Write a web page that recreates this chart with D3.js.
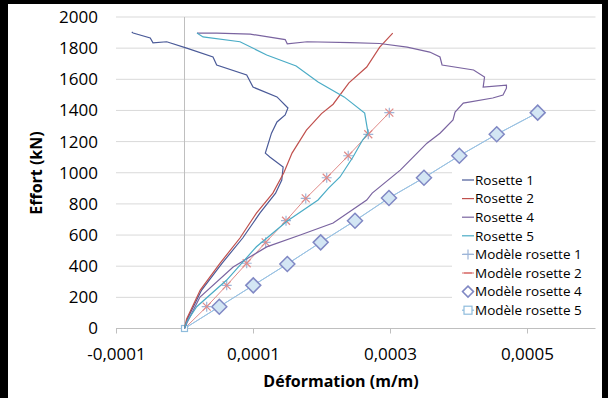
<!DOCTYPE html>
<html><head><meta charset="utf-8">
<script src="https://cdn.jsdelivr.net/npm/d3@7"></script>
<style>
html,body{margin:0;padding:0;background:#000;}
svg{display:block;}
text{font-family:"Open Sans","Noto Sans",sans-serif;}
</style></head>
<body>
<svg id="chart" width="608" height="398"></svg>
<script>
// ---------- data (strain m/m, effort kN) ----------
const yTicks = [0,200,400,600,800,1000,1200,1400,1600,1800,2000];
const xTicks = [-0.0001, 0.0001, 0.0003, 0.0005];
const seriesNames = ["Rosette 1","Rosette 2","Rosette 4","Rosette 5",
  "Modèle rosette 1","Modèle rosette 2","Modèle rosette 4","Modèle rosette 5"];

const rosette1 = [[0,0],[0.000004,60],[0.000025,247],[0.000055,420],[0.000085,581],[0.00011,741],[0.000133,869],
  [0.000142,953],[0.000144,1037],[0.000125,1100],[0.000118,1126],[0.000127,1254],[0.000135,1326],[0.000147,1371],
  [0.000151,1416],[0.000135,1487],[0.0001,1550],[0.0000908,1628],[0.000047,1692],[0.0000416,1743],
  [0.0000032,1800],[-0.000026,1841],[-0.000046,1834],[-0.00005,1865],[-0.000075,1897],[-0.000077,1903]];
const rosette2 = [[0,0],[0.000003,60],[0.000023,247],[0.000052,420],[0.000081,581],[0.000105,741],[0.000129,869],
  [0.000145,1000],[0.000157,1126],[0.000178,1274],[0.000200,1380],[0.000217,1440],[0.000240,1577],
  [0.000266,1679],[0.000285,1807],[0.000304,1897]];
const rosette4 = [[0,0],[0.000004,40],[0.0000226,202],[0.000071,395],[0.00012,524],[0.000169,600],[0.000217,677],
  [0.000266,825],[0.000274,869],[0.000315,1017],[0.000354,1190],[0.000373,1254],[0.000392,1339],[0.000395,1390],
  [0.000407,1447],[0.00045,1480],[0.000465,1499],[0.00047,1543],[0.00047,1563],[0.000436,1550],[0.000438,1615],
  [0.000422,1660],[0.000376,1692],[0.000373,1743],[0.000358,1775],[0.000325,1807],[0.000285,1830],
  [0.000242,1836],[0.000179,1841],[0.00015,1828],[0.000147,1855],[0.000096,1890],[0.000047,1897],[0.0000182,1897]];
const rosette5 = [[0,0],[0.000003,40],[0.0000178,140],[0.0000616,311],[0.000105,525],[0.00015,690],[0.000195,825],
  [0.00021,900],[0.000227,973],[0.000246,1101],[0.00026,1210],[0.000268,1254],[0.000263,1383],[0.000233,1487],
  [0.000195,1583],[0.000163,1685],[0.00012,1756],[0.000081,1841],[0.000027,1872],[0.0000182,1897]];
const modele1 = [[0,0],[0.0000324,140],[0.0000616,277],[0.0000908,419],[0.0001185,553],[0.0001482,692],
  [0.000177,835],[0.0002076,968],[0.000239,1109],[0.0002683,1247],[0.000299,1386]];
const modele2 = modele1;
const modele4 = [[0,0],[0.0000508,140],[0.0001004,277],[0.0001501,414],[0.0001988,553],[0.0002489,692],
  [0.0002985,838],[0.0003496,968],[0.0004012,1109],[0.0004558,1247],[0.0005156,1386]];
const modele5 = modele4;

// ---------- drawing ----------
const svg = d3.select("#chart");
svg.append("rect").attr("x",8).attr("y",4).attr("width",594).attr("height",394).attr("fill","#fff");

const x = d3.scaleLinear().domain([-0.0001, 0.0006]).range([116, 595.5]);
const y = d3.scaleLinear().domain([0, 2000]).range([328.5, 17]);

const locale = d3.formatLocale({decimal:",", thousands:" ", grouping:[3], currency:["",""], minus:"-"});
const fmtX = d => locale.format(".4f")(d);

// gridlines
svg.append("g").selectAll("line").data(yTicks.filter(d=>d>0)).join("line")
  .attr("x1",x.range()[0]).attr("x2",x.range()[1])
  .attr("y1",d=>y(d)).attr("y2",d=>y(d))
  .attr("stroke","#d9d9d9").attr("stroke-width",1);

// y axis labels
const yAxis = d3.axisLeft(y).tickValues(yTicks).tickSize(0).tickPadding(18).tickFormat(d3.format("d"));
const gy = svg.append("g").attr("transform",`translate(${x.range()[0]},0)`).call(yAxis);
gy.select(".domain").remove();
gy.selectAll("text").attr("font-size",17).attr("fill","#000").attr("font-family","Open Sans");

// vertical axis line at x=0
svg.append("line").attr("x1",x(0)).attr("x2",x(0)).attr("y1",y(2000)).attr("y2",y(0))
  .attr("stroke","#bfbfbf").attr("stroke-width",1);

// x axis
const xAxis = d3.axisBottom(x).tickValues(xTicks).tickSize(5).tickPadding(14).tickFormat(fmtX);
const gx = svg.append("g").attr("transform",`translate(0,${y(0)})`).call(xAxis);
gx.select(".domain").attr("stroke","#bfbfbf").attr("d",`M${x.range()[0]},0H${x.range()[1]}`);
gx.selectAll(".tick line").attr("stroke","#bfbfbf");
gx.selectAll("text").attr("font-size",17).attr("fill","#000").attr("font-family","Open Sans");

// axis titles
svg.append("text").attr("x",341).attr("y",387).attr("text-anchor","middle")
  .attr("font-size",16).attr("font-weight","bold").text("Déformation (m/m)");
svg.append("text").attr("transform","translate(42,173) rotate(-90)").attr("text-anchor","middle")
  .attr("font-size",16).attr("font-weight","bold").text("Effort (kN)");

const line = d3.line().x(d=>x(d[0])).y(d=>y(d[1]));

const styles = [
  {data:rosette1, color:"#4a5a98", w:1.2},
  {data:rosette2, color:"#c0504d", w:1.2},
  {data:rosette4, color:"#7a64a0", w:1.2},
  {data:rosette5, color:"#4bacc6", w:1.2},
  {data:modele1, color:"#9db5d8", w:1, marker:"plus"},
  {data:modele2, color:"#e08a88", w:1, marker:"dash"},
  {data:modele4, color:"#8088c4", w:1, marker:"diamond", lineColor:"#9cc3e4"},
  {data:modele5, color:"#8fbcdc", w:1, marker:"square"}
];

function drawMarker(g, type, cx, cy, color, plot){
  if(type==="plus"){
    g.append("path").attr("d",`M${cx-5},${cy}H${cx+5}M${cx},${cy-5}V${cy+5}`).attr("stroke",color).attr("stroke-width",1.2);
  } else if(type==="dash"){
    if(plot){
      g.append("path").attr("d",`M${cx-4},${cy-4}L${cx+4},${cy+4}M${cx-4},${cy+4}L${cx+4},${cy-4}`).attr("stroke",color).attr("stroke-width",1.2);
    } else {
      g.append("path").attr("d",`M${cx-4},${cy}H${cx+4}`).attr("stroke",color).attr("stroke-width",2);
    }
  } else if(type==="diamond"){
    const r = plot?7.5:5.5;
    g.append("path").attr("d",`M${cx},${cy-r}L${cx+r},${cy}L${cx},${cy+r}L${cx-r},${cy}Z`)
      .attr("fill", plot?"#d3e6f4":"#fff").attr("stroke",color).attr("stroke-width",1.5);
  } else if(type==="square"){
    const r = plot?3:4;
    g.append("rect").attr("x",cx-r).attr("y",cy-r).attr("width",2*r).attr("height",2*r)
      .attr("fill","#fff").attr("stroke",color).attr("stroke-width",1.2);
  }
}

// model lines
[7,6,5].forEach(i=>{
  const s = styles[i];
  svg.append("path").datum(s.data).attr("d",line).attr("fill","none")
    .attr("stroke", s.lineColor || s.color).attr("stroke-width",s.w);
});
// model markers
const mg = svg.append("g");
[7,6,4,5].forEach(i=>{
  const s = styles[i];
  s.data.forEach(d=>{
    if(d[1]===0 && s.marker!=="square") return;
    drawMarker(mg, s.marker, x(d[0]), y(d[1]), s.color, true);
  });
});
// experimental lines on top
[0,1,2,3].forEach(i=>{
  const s = styles[i];
  svg.append("path").datum(s.data).attr("d",line).attr("fill","none")
    .attr("stroke", s.color).attr("stroke-width",s.w);
});

// legend
const lg = svg.append("g");
lg.append("rect").attr("x",452).attr("y",169).attr("width",146).attr("height",152).attr("fill","#fff");
const ly0 = 180, ldy = 18.6;
seriesNames.forEach((name,i)=>{
  const s = styles[i];
  const cy = ly0 + i*ldy;
  lg.append("line").attr("x1",462).attr("x2",474).attr("y1",cy).attr("y2",cy)
    .attr("stroke", s.lineColor || s.color).attr("stroke-width",1.2);
  if(s.marker) drawMarker(lg, s.marker, 468, cy, s.color, false);
  lg.append("text").attr("x",475).attr("y",cy).attr("dy","0.35em")
    .attr("font-size",13.5).attr("fill","#000").text(name);
});
</script>
</body></html>
